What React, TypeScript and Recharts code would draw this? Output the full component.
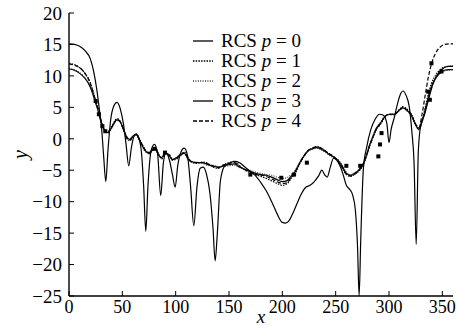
import React from 'react';
import { ComposedChart, Line, Scatter, XAxis, YAxis } from 'recharts';

const xTicks = [0, 50, 100, 150, 200, 250, 300, 350];
const yTicks = [20, 15, 10, 5, 0, -5, -10, -15, -20, -25];

const groupX = [0,5,10,15,20,24,27,30,33,36,39,42,45,48,51,54,57,60,63,66,69,72,75,78,81,84,87,90,94,97,100,104,108,112,116,120,125,130,135,140,145,150,155,160,165,170,175,180,185,190,195,200,204,208,212,216,220,224,228,232,236,240,244,248,252,256,260,264,268,272,276,279,282,285,288,292,296,300,305,310,313,317,321,325,328,331,334,337,340,344,348,352,356,360];

const p0 = [11.1,10.9,10.4,9.6,8.2,6.2,4.6,2.7,1.4,1.0,1.5,2.4,3.0,2.7,1.5,0.3,-0.1,0.4,0.7,-0.2,-1.2,-2.0,-2.2,-1.8,-1.6,-2.6,-3.0,-2.2,-2.7,-3.3,-3.1,-2.6,-2.3,-3.3,-3.7,-3.8,-3.8,-4.1,-4.3,-4.5,-4.3,-4.1,-4.0,-4.5,-4.9,-5.2,-5.5,-5.7,-5.8,-6.1,-6.5,-6.8,-6.7,-6.0,-5.2,-3.9,-2.8,-1.9,-1.6,-1.4,-1.6,-2.0,-2.5,-2.9,-3.4,-4.3,-5.5,-5.8,-5.5,-4.9,-3.9,-2.6,-0.9,0.4,1.6,2.5,3.5,3.9,3.9,4.6,4.9,4.5,3.7,2.2,1.5,2.7,4.6,6.7,8.4,9.7,10.5,10.9,11.0,11.0];

const p1 = [12.0,11.8,11.3,10.4,8.9,6.7,5.0,2.9,1.6,1.1,1.6,2.6,3.2,2.8,1.4,0.1,-0.3,0.3,0.8,0,-1.0,-1.9,-2.4,-1.9,-1.5,-2.4,-3.2,-2.4,-2.5,-3.4,-3.3,-2.8,-2.1,-3.1,-3.8,-3.9,-3.7,-3.9,-4.5,-4.7,-4.1,-3.8,-3.6,-4.3,-5.0,-5.4,-5.7,-6.0,-6.3,-6.7,-7.1,-7.4,-7.2,-6.4,-5.5,-4.1,-2.9,-2.0,-1.5,-1.2,-1.4,-1.9,-2.4,-2.8,-3.6,-4.6,-5.7,-6.0,-5.6,-5.1,-4.1,-2.7,-1.1,0.2,1.4,2.3,3.4,3.9,3.9,4.7,5.1,4.7,3.9,2.4,1.6,2.9,5.0,7.2,8.9,10.2,11.0,11.4,11.5,11.6];

const p2 = [11.2,11.0,10.5,9.7,8.3,6.3,4.7,2.8,1.5,1.1,1.4,2.3,2.9,2.6,1.6,0.4,0,0.5,0.6,-0.3,-1.3,-2.1,-2.1,-1.7,-1.7,-2.7,-2.9,-2.1,-2.8,-3.2,-3.0,-2.5,-2.4,-3.4,-3.6,-3.7,-3.9,-4.2,-4.2,-4.4,-4.4,-4.3,-4.2,-4.6,-4.8,-5.0,-5.3,-5.5,-5.7,-5.8,-6.1,-6.3,-6.2,-5.7,-5.0,-3.8,-2.7,-1.9,-1.7,-1.5,-1.7,-2.1,-2.6,-3.0,-3.3,-4.1,-5.3,-5.7,-5.4,-4.8,-3.8,-2.5,-0.8,0.5,1.7,2.6,3.6,3.8,3.8,4.5,4.8,4.4,3.6,2.1,1.4,2.6,4.5,6.6,8.3,9.6,10.4,10.8,10.9,11.0];

const p4 = [11.9,11.7,11.3,10.4,8.8,6.6,4.9,2.9,1.5,0.9,1.5,2.5,3.1,2.7,1.5,0.2,-0.2,0.4,0.7,-0.1,-1.1,-1.9,-2.3,-1.9,-1.6,-2.5,-3.1,-2.3,-2.6,-3.3,-3.2,-2.7,-2.2,-3.2,-3.8,-3.8,-3.8,-4.0,-4.4,-4.6,-4.2,-3.9,-3.8,-4.4,-4.9,-5.3,-5.7,-5.8,-6.0,-6.4,-6.8,-7.1,-7.0,-6.2,-5.3,-4.0,-2.8,-1.9,-1.5,-1.3,-1.5,-1.9,-2.4,-2.8,-3.5,-4.5,-5.6,-5.9,-5.6,-5.0,-4.0,-2.6,-1.0,0.3,1.5,2.4,3.5,3.9,3.9,4.6,5.0,4.6,3.8,2.3,1.8,3.9,7.0,9.9,12.0,13.7,14.6,15.0,15.1,15.1];

const p3X = [0,5,10,15,20,23,26,28.5,30.5,32.5,34.5,36.5,39,42,45,48,51,53.5,56,58.5,61,63,65.5,68,70,72,74,77,80,83,86,88.5,91,94,97,99.5,102,105,108,111,114,117,120,123,126,129,132,135,137,139,142,146,150,155,160,165,170,175,180,185,190,195,200,203,206,210,214,218,222,226,230,234,237,240,242,245,248,251,254,257,260,263,266,268.5,270.5,272,273.5,276,279,283,287,291,295,298,300,302,305,308,311,313,316,319,321.5,323.5,325.5,327.5,330,333,337,341,345,350,355,360];

const p3 = [15.1,15.0,14.7,14.0,12.7,10.8,7.9,4.6,1.8,-2.8,-6.8,-1.9,2.9,5.2,5.8,4.8,2.4,-0.9,-4.3,-1.4,0.4,0.7,0.1,-2.3,-7.6,-14.7,-7.6,-1.9,-0.9,-2.3,-9.0,-3.8,-2.2,-3.3,-5.7,-7.7,-4.2,-2.1,-1.5,-2.6,-7.6,-13.8,-7.6,-4.7,-4.5,-5.7,-8.5,-14.2,-19.4,-15.2,-6.6,-4.3,-3.9,-3.6,-3.8,-4.5,-5.2,-5.9,-7.0,-8.3,-10.0,-11.9,-13.3,-13.4,-13.1,-11.8,-10.2,-8.7,-7.7,-7.4,-6.8,-5.9,-5.0,-5.8,-6.1,-4.5,-3.1,-3.4,-4.3,-5.7,-7.4,-8.0,-9.0,-11.4,-17.1,-25,-16.1,-4.7,-1.4,1.5,3.1,3.9,3.7,2.4,-0.6,1.5,3.4,5.6,7.2,7.6,6.9,5.1,1.0,-3.8,-16.8,-1.9,2.4,3.7,6.2,8.6,10.1,11.1,11.5,11.5];

const markX = [25, 28, 31.3, 34, 80, 90, 170, 199, 211, 223, 260, 273, 290, 291.6, 293, 336.7, 338.3, 339.8, 349.2];
const markY = [6.0, 3.9, 2.0, 1.2, -1.6, -2.2, -5.7, -6.2, -5.7, -3.8, -4.3, -4.3, -2.8, -0.9, 0.9, 7.5, 6.2, 12.0, 10.7];

const legendLabels = ['0', '1', '2', '3', '4'];

const groupData = groupX.map((x, i) => ({ x, p0: p0[i], p1: p1[i], p2: p2[i], p4: p4[i] }));
const p3Data = p3X.map((x, i) => ({ x, p3: p3[i] }));
const markData = markX.map((x, i) => ({ x, m: markY[i] }));

const FONT = "'Liberation Serif', 'Times New Roman', Times, serif";

const styles: Record<string, { dash?: string; color: string; width: number }> = {
  '0': { color: '#000', width: 1.2 },
  '1': { color: '#000', dash: '1.5 1.2', width: 1.2 },
  '2': { color: '#333', dash: '1 1.4', width: 1.1 },
  '3': { color: '#000', width: 1.2 },
  '4': { color: '#000', dash: '4 2', width: 1.2 },
};

const fmt = (v: number) => (v < 0 ? '\u2212' + Math.abs(v) : String(v));

const SquareDot = (props: any) => {
  const { cx, cy } = props;
  if (cx == null || cy == null) return <g />;
  return <rect x={cx - 2} y={cy - 2} width={4} height={4} fill="#000" />;
};

const LegendBox = () => (
  <div style={{ position: 'absolute', left: 190, top: 31, fontFamily: FONT, fontSize: 19, color: '#000', lineHeight: '20px' }}>
    {legendLabels.map((k) => (
      <div key={k} style={{ display: 'flex', alignItems: 'center', height: 20, whiteSpace: 'nowrap' }}>
        <svg width={31} height={20} style={{ display: 'block' }}>
          <line x1={3} x2={23} y1={10} y2={10} stroke={styles[k].color} strokeWidth={1.3} strokeDasharray={styles[k].dash} />
        </svg>
        <span>RCS <i>p</i> = {k}</span>
      </div>
    ))}
  </div>
);

export default function App() {
  return (
    <div style={{ position: 'absolute', left: 0, top: 0, width: 457, height: 329, background: '#fff', fontFamily: FONT }}>
      <ComposedChart width={457} height={329} margin={{ top: 13, right: 4, left: 0, bottom: 0 }} style={{ fontFamily: FONT }}>
        <XAxis
          dataKey="x"
          type="number"
          domain={[0, 360]}
          ticks={xTicks}
          allowDataOverflow
          height={33}
          tickSize={-5}
          tickMargin={9}
          axisLine={{ stroke: '#000', strokeWidth: 1.4 }}
          tickLine={{ stroke: '#000' }}
          tick={{ fontFamily: FONT, fontSize: 18, fill: '#000' }}
          label={{ value: 'x', position: 'insideBottom', offset: 6, style: { fontFamily: FONT, fontSize: 19, fontStyle: 'italic', fill: '#000' } }}
        />
        <XAxis xAxisId="top" orientation="top" type="number" domain={[0, 360]} height={0} tick={false} tickLine={false} axisLine={{ stroke: '#000', strokeWidth: 1.4 }} />
        <YAxis
          type="number"
          domain={[-25, 20]}
          ticks={yTicks}
          allowDataOverflow
          width={69}
          tickSize={-5}
          tickMargin={12}
          tickFormatter={fmt}
          axisLine={{ stroke: '#000', strokeWidth: 1.4 }}
          tickLine={{ stroke: '#000' }}
          tick={{ fontFamily: FONT, fontSize: 19, fill: '#000' }}
          label={{ value: 'y', angle: -90, position: 'insideLeft', offset: 20, style: { fontFamily: FONT, fontSize: 20, fontStyle: 'italic', fill: '#000', textAnchor: 'middle' } }}
        />
        <YAxis yAxisId="right" orientation="right" type="number" domain={[-25, 20]} width={0} tick={false} tickLine={false} axisLine={{ stroke: '#000', strokeWidth: 1.6 }} />
        <Line data={groupData} dataKey="p0" type="monotone" stroke={styles['0'].color} strokeWidth={styles['0'].width} dot={false} isAnimationActive={false} />
        <Line data={groupData} dataKey="p1" type="monotone" stroke={styles['1'].color} strokeWidth={styles['1'].width} strokeDasharray={styles['1'].dash} dot={false} isAnimationActive={false} />
        <Line data={groupData} dataKey="p2" type="monotone" stroke={styles['2'].color} strokeWidth={styles['2'].width} strokeDasharray={styles['2'].dash} dot={false} isAnimationActive={false} />
        <Line data={p3Data} dataKey="p3" type="monotone" stroke={styles['3'].color} strokeWidth={styles['3'].width} dot={false} isAnimationActive={false} />
        <Line data={groupData} dataKey="p4" type="monotone" stroke={styles['4'].color} strokeWidth={styles['4'].width} strokeDasharray={styles['4'].dash} dot={false} isAnimationActive={false} />
        <Scatter data={markData} dataKey="m" shape={SquareDot} isAnimationActive={false} />
      </ComposedChart>
      <LegendBox />
    </div>
  );
}
